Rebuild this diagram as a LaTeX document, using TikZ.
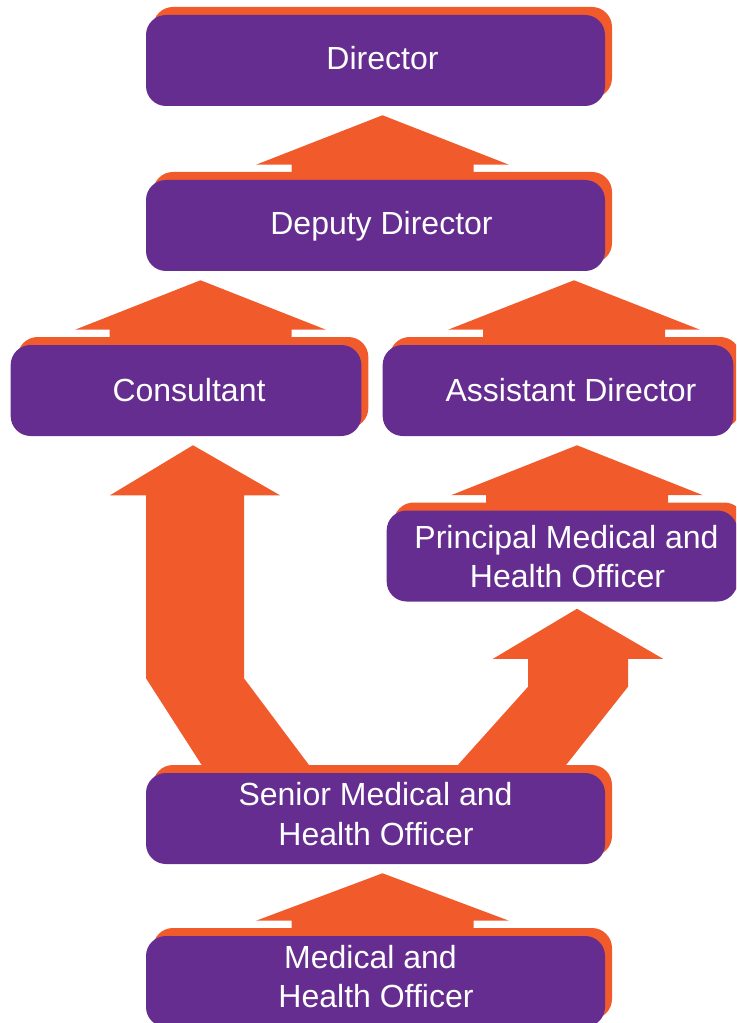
\documentclass[tikz,border=0pt]{standalone}
\usepackage{fontspec}
\setmainfont{Liberation Sans}
\usetikzlibrary{calc,shadows}
\definecolor{boxpurple}{HTML}{652D90}
\definecolor{arrorange}{HTML}{F15A2B}
\pgfdeclarelayer{bg}
\pgfsetlayers{bg,main}
\tikzset{
  orgbox/.style={rectangle, rounded corners=15pt, fill=boxpurple, draw=none, inner sep=0pt,
    minimum height=68.25pt,
    general shadow={fill=arrorange, shadow xshift=5.25pt, shadow yshift=6pt}},
  widebox/.style={orgbox, minimum width=344.25pt},
  halfbox/.style={orgbox, minimum width=263pt},
  lbl/.style={text=white, anchor=base, inner sep=0pt, font=\fontsize{24pt}{30pt}\selectfont},
  arr/.style={fill=arrorange, draw=none},
}
% #1 source node, #2 target node, #3 x offset, #4 head half-width, #5 shaft half-width
\newcommand\flatarrow[5]{%
  \coordinate (#1-tip) at ($(#1.north)+(#3,0)$);
  \fill[arr] ($(#1-tip |- #2.south)+(0,9)$) -- ($(#1-tip)+(#4,-15)$) -- ($(#1-tip)+(#5,-15)$)
    -- ($(#1-tip)+(#5,8)$) -- ($(#1-tip)+(-#5,8)$) -- ($(#1-tip)+(-#5,-15)$)
    -- ($(#1-tip)+(-#4,-15)$) -- cycle;}
\begin{document}
\begin{tikzpicture}[x=0.75pt,y=-0.75pt]
\useasboundingbox (0,0) rectangle (736,1023);
\clip (0,0) rectangle (736,1023);
% boxes
\node[widebox] (director)   at (375.5,60.5)  {};
\node[widebox] (deputy)     at (375.5,225.5) {};
\node[halfbox] (consultant) at (186,390.5)   {};
\node[halfbox] (assistant)  at (558,390.5)   {};
\node[halfbox] (pmho)       at (562,556)     {};
\node[widebox] (senior)     at (375.5,818.5) {};
\node[widebox] (mho)        at (375.5,981.5) {};
% labels
\node[lbl] (tdirector)   at (382.5,69.5) {Director};
\node[lbl] (tdeputy)     at (381.5,235)  {Deputy Director};
\node[lbl] (tconsultant) at (189,401)    {Consultant};
\node[lbl] (tassistant)  at (571,401)    {Assistant Director};
\node[lbl] (tpmhoa)      at (566.5,548)  {Principal Medical and};
\node[lbl] (tpmhob)      at (567.5,587)  {Health Officer};
\node[lbl] (tseniora)    at (375.5,805)  {Senior Medical and};
\node[lbl] (tseniorb)    at (376,845)    {Health Officer};
\node[lbl] (tmhoa)       at (370.5,968)  {Medical and};
\node[lbl] (tmhob)       at (376,1007)   {Health Officer};
% arrows
\begin{pgfonlayer}{bg}
\flatarrow{deputy}{director}{7}{126.5}{91}
\flatarrow{consultant}{deputy}{14.5}{125.5}{91}
\flatarrow{assistant}{deputy}{16}{126}{91}
\flatarrow{pmho}{assistant}{15}{126}{91}
\flatarrow{mho}{senior}{7}{126.5}{91}
% senior -> consultant
\fill[arr] ($(consultant.south)+(7,9)$) -- ($(consultant.south)+(94,59)$)
  -- ($(consultant.south)+(58,59)$) -- ($(consultant.south)+(58,242)$)
  -- ($(senior.north)+(-61.5,-1)$) -- ($(senior.north)+(-169.5,-1)$)
  -- ($(consultant.south)+(-40,242)$) -- ($(consultant.south)+(-40,59)$)
  -- ($(consultant.south)+(-76,59)$) -- cycle;
% senior -> principal
\fill[arr] ($(pmho.south)+(15,7)$) -- ($(pmho.south)+(101,57)$)
  -- ($(pmho.south)+(66,57)$) -- ($(pmho.south)+(66,85)$)
  -- ($(senior.north)+(185.2,-1)$) -- ($(senior.north)+(76.3,-1)$)
  -- ($(pmho.south)+(-34,85)$) -- ($(pmho.south)+(-34,57)$)
  -- ($(pmho.south)+(-69,57)$) -- cycle;
\end{pgfonlayer}
\end{tikzpicture}
\end{document}
